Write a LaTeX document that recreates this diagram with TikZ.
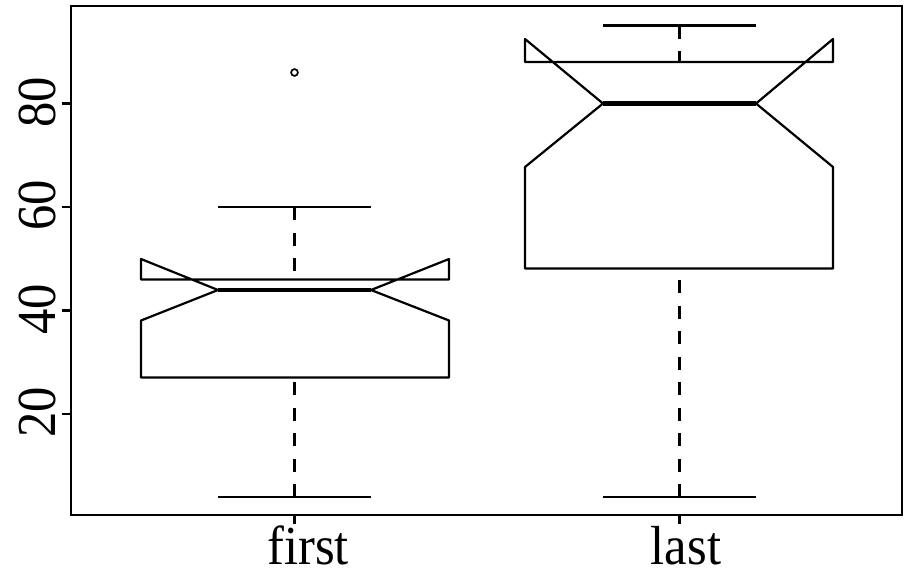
\documentclass[tikz,border=0pt]{standalone}
\usepackage{fontspec}
\setmainfont{Liberation Serif}
\begin{document}
\begin{tikzpicture}[x=1pt,y=-1pt,
  frameline/.style={line width=2.2pt, line join=miter},
  tickline/.style={line width=2.2pt},
  boxline/.style={line width=2.2pt, line join=round},
  medline/.style={line width=4.6pt},
  whisk/.style={line width=2.5pt, dash pattern=on 13pt off 12.5pt},
  capline/.style={line width=2.2pt},
  outl/.style={line width=1.7pt},
  lab/.style={font=\fontsize{55}{60}\selectfont, inner sep=0pt, outer sep=0pt}]
\useasboundingbox (0,0) rectangle (910,571);
% frame
\draw[frameline] (71,6) rectangle (902,515);
% y ticks
\foreach \yy/\tt in {103.5/80, 207/60, 310.5/40, 414/20} {
  \draw[tickline] (62,\yy) -- (71,\yy);
  \node[lab, rotate=90, anchor=base] (y\tt) at (55,\yy-1.5) {\scalebox{0.92}[1]{\tt}};
}
% x ticks
\draw[tickline] (294.5,515) -- (294.5,524);
\draw[tickline] (679.5,515) -- (679.5,524);
\node[lab, anchor=base] (first) at (308,564.5) {\scalebox{0.92}[1]{first}};
\node[lab, anchor=base] (last) at (686,564.5) {\scalebox{0.92}[1]{last}};
% ---- box 1 ----
\draw[whisk] (294.5,207) -- (294.5,279.5);
\draw[whisk] (294.5,497) -- (294.5,377.5);
\draw[capline] (218,207) -- (371,207);
\draw[capline] (218,497) -- (371,497);
\draw[boxline] (141,377.5) -- (141,320.5) -- (218,290) -- (141,259) -- (141,279.5)
  -- (449,279.5) -- (449,259) -- (371,290) -- (449,320.5) -- (449,377.5) -- cycle;
\draw[medline] (218,290) -- (371,290);
\draw[outl] (294.5,72.5) circle (3.4);
% ---- box 2 ----
\draw[whisk] (679.5,25.5) -- (679.5,62);
\draw[whisk] (679.5,497) -- (679.5,268.5);
\draw[capline] (603,25.5) -- (756,25.5);
\draw[capline] (603,497) -- (756,497);
\draw[boxline] (525,268.5) -- (525,167) -- (603,103.5) -- (525,39) -- (525,62)
  -- (833,62) -- (833,39) -- (756,103.5) -- (833,167) -- (833,268.5) -- cycle;
\draw[medline] (603,103.5) -- (756,103.5);
\end{tikzpicture}
\end{document}
